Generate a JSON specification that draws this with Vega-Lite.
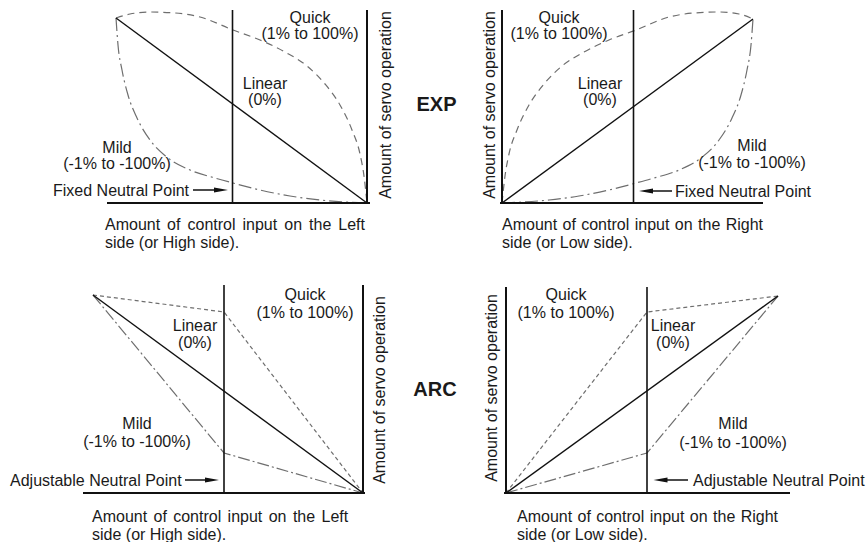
{
  "$schema": "https://vega.github.io/schema/vega-lite/v6.json",
  "width": 868,
  "height": 542,
  "autosize": "none",
  "padding": 0,
  "background": "white",
  "config": {"view": {"stroke": null}, "text": {"font": "Liberation Sans", "fontSize": 16, "color": "#1a1a1a"}},
  "datasets": {
    "frame": [
      {"seg": "tl_bottom", "i": 0, "x": 107, "y": 203}, {"seg": "tl_bottom", "i": 1, "x": 370, "y": 203},
      {"seg": "tl_right", "i": 0, "x": 367, "y": 10}, {"seg": "tl_right", "i": 1, "x": 367, "y": 203},
      {"seg": "tr_left", "i": 0, "x": 502, "y": 10}, {"seg": "tr_left", "i": 1, "x": 502, "y": 203},
      {"seg": "tr_bottom", "i": 0, "x": 500, "y": 203}, {"seg": "tr_bottom", "i": 1, "x": 763, "y": 203},
      {"seg": "bl_bottom", "i": 0, "x": 83, "y": 493}, {"seg": "bl_bottom", "i": 1, "x": 365, "y": 493},
      {"seg": "bl_right", "i": 0, "x": 363, "y": 285}, {"seg": "bl_right", "i": 1, "x": 363, "y": 493},
      {"seg": "br_left", "i": 0, "x": 506, "y": 287}, {"seg": "br_left", "i": 1, "x": 506, "y": 493},
      {"seg": "br_bottom", "i": 0, "x": 504, "y": 493}, {"seg": "br_bottom", "i": 1, "x": 790, "y": 493}
    ],
    "neutral": [
      {"seg": "tl", "i": 0, "x": 232.5, "y": 10}, {"seg": "tl", "i": 1, "x": 232.5, "y": 203},
      {"seg": "tr", "i": 0, "x": 633.5, "y": 10}, {"seg": "tr", "i": 1, "x": 633.5, "y": 203},
      {"seg": "bl", "i": 0, "x": 224, "y": 285}, {"seg": "bl", "i": 1, "x": 224, "y": 493},
      {"seg": "br", "i": 0, "x": 647, "y": 287}, {"seg": "br", "i": 1, "x": 647, "y": 493}
    ],
    "linear": [
      {"seg": "tl", "i": 0, "x": 116, "y": 18}, {"seg": "tl", "i": 1, "x": 367, "y": 203},
      {"seg": "tr", "i": 0, "x": 502, "y": 203}, {"seg": "tr", "i": 1, "x": 753, "y": 19},
      {"seg": "bl", "i": 0, "x": 93, "y": 295}, {"seg": "bl", "i": 1, "x": 363, "y": 493},
      {"seg": "br", "i": 0, "x": 506, "y": 493}, {"seg": "br", "i": 1, "x": 778, "y": 296}
    ],
    "expQuick": [
      {"seg": "tl", "x": 116, "y": 18}, {"seg": "tl", "x": 130, "y": 14}, {"seg": "tl", "x": 150, "y": 12},
      {"seg": "tl", "x": 175, "y": 13}, {"seg": "tl", "x": 200, "y": 17}, {"seg": "tl", "x": 233, "y": 30},
      {"seg": "tl", "x": 260, "y": 40}, {"seg": "tl", "x": 285, "y": 52}, {"seg": "tl", "x": 307, "y": 66},
      {"seg": "tl", "x": 325, "y": 84}, {"seg": "tl", "x": 340, "y": 105}, {"seg": "tl", "x": 352, "y": 130},
      {"seg": "tl", "x": 360, "y": 154}, {"seg": "tl", "x": 364, "y": 176}, {"seg": "tl", "x": 367, "y": 203},
      {"seg": "tr", "x": 502, "y": 203}, {"seg": "tr", "x": 505, "y": 176}, {"seg": "tr", "x": 509, "y": 154},
      {"seg": "tr", "x": 517, "y": 130}, {"seg": "tr", "x": 529, "y": 105}, {"seg": "tr", "x": 544, "y": 84},
      {"seg": "tr", "x": 562, "y": 66}, {"seg": "tr", "x": 584, "y": 52}, {"seg": "tr", "x": 609, "y": 40},
      {"seg": "tr", "x": 636, "y": 30}, {"seg": "tr", "x": 669, "y": 17}, {"seg": "tr", "x": 694, "y": 13},
      {"seg": "tr", "x": 719, "y": 12}, {"seg": "tr", "x": 739, "y": 14}, {"seg": "tr", "x": 753, "y": 19}
    ],
    "expMild": [
      {"seg": "tl", "x": 116, "y": 18}, {"seg": "tl", "x": 118, "y": 45}, {"seg": "tl", "x": 122, "y": 70},
      {"seg": "tl", "x": 128, "y": 95}, {"seg": "tl", "x": 137, "y": 118}, {"seg": "tl", "x": 150, "y": 140},
      {"seg": "tl", "x": 168, "y": 158}, {"seg": "tl", "x": 190, "y": 170}, {"seg": "tl", "x": 215, "y": 178},
      {"seg": "tl", "x": 233, "y": 183}, {"seg": "tl", "x": 260, "y": 190}, {"seg": "tl", "x": 290, "y": 196},
      {"seg": "tl", "x": 320, "y": 200}, {"seg": "tl", "x": 367, "y": 203},
      {"seg": "tr", "x": 502, "y": 203}, {"seg": "tr", "x": 549, "y": 200}, {"seg": "tr", "x": 579, "y": 196},
      {"seg": "tr", "x": 609, "y": 190}, {"seg": "tr", "x": 636, "y": 183}, {"seg": "tr", "x": 654, "y": 178},
      {"seg": "tr", "x": 679, "y": 170}, {"seg": "tr", "x": 701, "y": 158}, {"seg": "tr", "x": 719, "y": 140},
      {"seg": "tr", "x": 732, "y": 118}, {"seg": "tr", "x": 741, "y": 95}, {"seg": "tr", "x": 747, "y": 70},
      {"seg": "tr", "x": 751, "y": 45}, {"seg": "tr", "x": 753, "y": 19}
    ],
    "arcQuick": [
      {"seg": "bl", "i": 0, "x": 93, "y": 295}, {"seg": "bl", "i": 1, "x": 224, "y": 312}, {"seg": "bl", "i": 2, "x": 363, "y": 493},
      {"seg": "br", "i": 0, "x": 506, "y": 493}, {"seg": "br", "i": 1, "x": 647, "y": 312}, {"seg": "br", "i": 2, "x": 778, "y": 296}
    ],
    "arcMild": [
      {"seg": "bl", "i": 0, "x": 93, "y": 295}, {"seg": "bl", "i": 1, "x": 224, "y": 453}, {"seg": "bl", "i": 2, "x": 363, "y": 493},
      {"seg": "br", "i": 0, "x": 506, "y": 493}, {"seg": "br", "i": 1, "x": 647, "y": 453}, {"seg": "br", "i": 2, "x": 778, "y": 296}
    ],
    "arrows": [
      {"x": 193, "x2": 216, "y": 190, "hx": 221, "dir": "right"},
      {"x": 652, "x2": 672, "y": 191, "hx": 646, "dir": "left"},
      {"x": 185, "x2": 207, "y": 480, "hx": 212, "dir": "right"},
      {"x": 667, "x2": 688, "y": 480, "hx": 660.5, "dir": "left"}
    ],
    "labels": [
      {"t": "Quick", "x": 310, "y": 18}, {"t": "(1% to 100%)", "x": 310, "y": 34},
      {"t": "Linear", "x": 265, "y": 84}, {"t": "(0%)", "x": 265, "y": 100},
      {"t": "Mild", "x": 117, "y": 148}, {"t": "(-1% to -100%)", "x": 117, "y": 164},
      {"t": "Quick", "x": 559, "y": 18}, {"t": "(1% to 100%)", "x": 559, "y": 34},
      {"t": "Linear", "x": 600, "y": 84}, {"t": "(0%)", "x": 600, "y": 100},
      {"t": "Mild", "x": 752, "y": 146}, {"t": "(-1% to -100%)", "x": 752, "y": 163},
      {"t": "Quick", "x": 305, "y": 295}, {"t": "(1% to 100%)", "x": 305, "y": 313},
      {"t": "Linear", "x": 195, "y": 326}, {"t": "(0%)", "x": 195, "y": 343},
      {"t": "Mild", "x": 137, "y": 424}, {"t": "(-1% to -100%)", "x": 137, "y": 442},
      {"t": "Quick", "x": 566, "y": 295}, {"t": "(1% to 100%)", "x": 566, "y": 313},
      {"t": "Linear", "x": 673, "y": 326}, {"t": "(0%)", "x": 673, "y": 343},
      {"t": "Mild", "x": 733, "y": 424}, {"t": "(-1% to -100%)", "x": 733, "y": 443}
    ],
    "leftText": [
      {"t": "Fixed Neutral Point", "x": 53, "y": 196},
      {"t": "Fixed Neutral Point", "x": 675, "y": 197},
      {"t": "Adjustable Neutral Point", "x": 10, "y": 486},
      {"t": "Adjustable Neutral Point", "x": 693, "y": 486},
      {"t": "Amount", "x": 105, "y": 230}, {"t": "of", "x": 167, "y": 230}, {"t": "control", "x": 187.5, "y": 230},
      {"t": "input", "x": 242.5, "y": 230}, {"t": "on", "x": 284.3, "y": 230}, {"t": "the", "x": 309.1, "y": 230},
      {"t": "Left", "x": 338.3, "y": 230},
      {"t": "side (or High side).", "x": 105, "y": 248},
      {"t": "Amount", "x": 502, "y": 230}, {"t": "of", "x": 562.5, "y": 230}, {"t": "control", "x": 581.2, "y": 230},
      {"t": "input", "x": 634.7, "y": 230}, {"t": "on", "x": 674.8, "y": 230}, {"t": "the", "x": 698.1, "y": 230},
      {"t": "Right", "x": 725.7, "y": 230},
      {"t": "side (or Low side).", "x": 502, "y": 248},
      {"t": "Amount", "x": 92, "y": 522}, {"t": "of", "x": 153.5, "y": 522}, {"t": "control", "x": 173.2, "y": 522},
      {"t": "input", "x": 227.6, "y": 522}, {"t": "on", "x": 268.7, "y": 522}, {"t": "the", "x": 292.9, "y": 522},
      {"t": "Left", "x": 321.5, "y": 522},
      {"t": "side (or High side).", "x": 92, "y": 540},
      {"t": "Amount", "x": 517, "y": 522}, {"t": "of", "x": 577.5, "y": 522}, {"t": "control", "x": 596.2, "y": 522},
      {"t": "input", "x": 649.7, "y": 522}, {"t": "on", "x": 689.8, "y": 522}, {"t": "the", "x": 713.1, "y": 522},
      {"t": "Right", "x": 740.7, "y": 522},
      {"t": "side (or Low side).", "x": 517, "y": 540}
    ],
    "vertText": [
      {"t": "Amount of servo operation", "x": 386, "y": 105},
      {"t": "Amount of servo operation", "x": 490, "y": 105},
      {"t": "Amount of servo operation", "x": 380, "y": 390},
      {"t": "Amount of servo operation", "x": 492, "y": 388}
    ],
    "titles": [
      {"t": "EXP", "x": 436.5, "y": 105},
      {"t": "ARC", "x": 435, "y": 390}
    ]
  },
  "encoding": {
    "x": {"field": "x", "type": "quantitative", "scale": {"domain": [0, 868], "nice": false, "zero": false}, "axis": null},
    "y": {"field": "y", "type": "quantitative", "scale": {"domain": [0, 542], "nice": false, "zero": false, "reverse": true}, "axis": null}
  },
  "layer": [
    {
      "data": {"name": "expQuick"},
      "mark": {"type": "line", "interpolate": "monotone", "stroke": "#6e6e6e", "strokeWidth": 1.2, "strokeDash": [7, 5]},
      "encoding": {"detail": {"field": "seg"}}
    },
    {
      "data": {"name": "expMild"},
      "mark": {"type": "line", "interpolate": "monotone", "stroke": "#6e6e6e", "strokeWidth": 1.2, "strokeDash": [13, 4, 2, 4]},
      "encoding": {"detail": {"field": "seg"}}
    },
    {
      "data": {"name": "arcQuick"},
      "mark": {"type": "line", "stroke": "#6e6e6e", "strokeWidth": 1.2, "strokeDash": [4, 3]},
      "encoding": {"detail": {"field": "seg"}, "order": {"field": "i"}}
    },
    {
      "data": {"name": "arcMild"},
      "mark": {"type": "line", "stroke": "#6e6e6e", "strokeWidth": 1.2, "strokeDash": [12, 3, 2, 3]},
      "encoding": {"detail": {"field": "seg"}, "order": {"field": "i"}}
    },
    {
      "data": {"name": "linear"},
      "mark": {"type": "line", "stroke": "#111111", "strokeWidth": 1.4},
      "encoding": {"detail": {"field": "seg"}, "order": {"field": "i"}}
    },
    {
      "data": {"name": "neutral"},
      "mark": {"type": "line", "stroke": "#111111", "strokeWidth": 1.6},
      "encoding": {"detail": {"field": "seg"}, "order": {"field": "i"}}
    },
    {
      "data": {"name": "frame"},
      "mark": {"type": "line", "stroke": "#111111", "strokeWidth": 2},
      "encoding": {"detail": {"field": "seg"}, "order": {"field": "i"}}
    },
    {
      "data": {"name": "arrows"},
      "mark": {"type": "rule", "stroke": "#111111", "strokeWidth": 1.5},
      "encoding": {"x2": {"field": "x2"}}
    },
    {
      "data": {"name": "arrows"},
      "mark": {"type": "point", "filled": true, "color": "#111111", "opacity": 1, "size": 196},
      "encoding": {
        "x": {"field": "hx", "type": "quantitative"},
        "shape": {"field": "dir", "type": "nominal", "scale": {"domain": ["right", "left"], "range": ["M-1,-0.37L1,0L-1,0.37Z", "M1,-0.37L-1,0L1,0.37Z"]}, "legend": null}
      }
    },
    {
      "data": {"name": "labels"},
      "mark": {"type": "text", "align": "center", "baseline": "middle"},
      "encoding": {"text": {"field": "t"}}
    },
    {
      "data": {"name": "leftText"},
      "mark": {"type": "text", "align": "left", "baseline": "alphabetic"},
      "encoding": {"text": {"field": "t"}}
    },
    {
      "data": {"name": "vertText"},
      "mark": {"type": "text", "align": "center", "baseline": "middle", "angle": 270},
      "encoding": {"text": {"field": "t"}}
    },
    {
      "data": {"name": "titles"},
      "mark": {"type": "text", "align": "center", "baseline": "middle", "fontSize": 20, "fontWeight": "bold"},
      "encoding": {"text": {"field": "t"}}
    }
  ]
}
